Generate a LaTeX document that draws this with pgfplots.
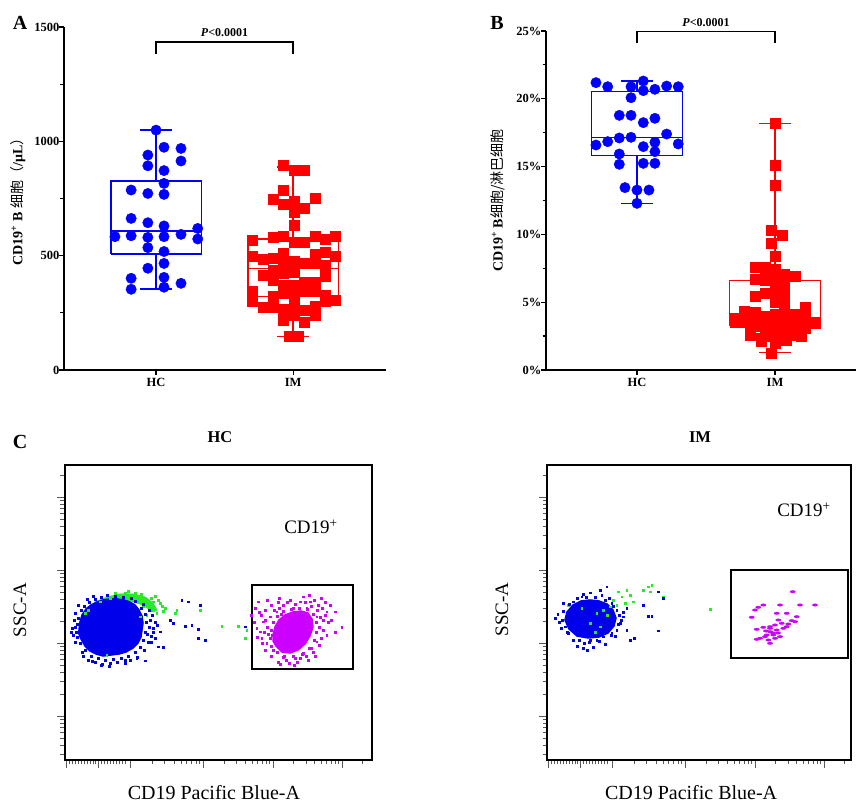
\documentclass[border=0pt]{standalone}
\usepackage{pgfplots}
\pgfplotsset{compat=1.18}
\usepackage{fontspec}
\setmainfont{Liberation Serif}
\newfontfamily\cjk{Noto Sans CJK SC}

\definecolor{fcblue}{RGB}{0,0,235}
\definecolor{fcgreen}{RGB}{40,235,40}
\definecolor{fcmag}{RGB}{204,0,255}

\pgfplotsset{
  dotplot/.style={
    scale only axis, axis lines=left, axis line style={-, line width=1.4pt},
    tick align=outside, tick style={line width=1.2pt, black},
    major tick length=5pt, minor tick length=3.5pt,
    ymin=0, xtick={1,2}, xticklabels={HC,IM},
    ticklabel style={font=\fontsize{12.5}{14}\selectfont\bfseries},
    yticklabel style={xshift=4pt},
    /pgf/number format/assume math mode=true,
    /pgf/number format/1000 sep={},
    clip=false, unbounded coords=jump,
  },
  flowplot/.style={
    scale only axis, height=295pt, ymin=0, ymax=295, xmin=0,
    axis line style={line width=1.8pt},
    tick align=outside, xtick pos=bottom, ytick pos=left,
    tick style={line width=0.7pt, gray!70!black},
    major tick length=8pt, minor tick length=4.5pt,
    xtick={1,33,65,138,208,277},
    minor xtick={4,7,10,13,16,19,22,25,28,30,36,39,42,45,48,51,54,57,60,
      87.0,99.8,108.9,116.0,121.8,126.7,130.9,134.6,
      159.1,171.4,180.1,186.9,192.5,197.2,201.2,204.8,
      228.8,240.9,249.5,256.2,261.7,266.3,270.3,273.8,297.8},
    ytick={44,117,190,263},
    minor ytick={5.8,14.9,22,27.8,32.7,36.9,40.7,66,78.8,87.9,95,100.8,105.7,109.9,113.7,
      139,151.8,160.9,168,173.8,178.7,182.9,186.7,
      212,224.8,233.9,241,246.8,251.7,255.9,259.7,285},
    xticklabels={}, yticklabels={},
    ylabel={\fontsize{19}{21}\selectfont SSC-A},
    xlabel={\fontsize{20}{22}\selectfont CD19 Pacific Blue-A},
  },
  bdot/.style={only marks, mark=square*, mark size=0.9pt, fcblue},
  gdot/.style={only marks, mark=square*, mark size=0.9pt, fcgreen},
  mdot/.style={only marks, mark=square*, mark size=0.9pt, fcmag},
}

\begin{document}
\begin{tikzpicture}
\useasboundingbox (0,0) rectangle (857pt,803pt);

% ---------- A ----------
\begin{axis}[dotplot, at={(64pt,433pt)}, anchor=south west,
  width=322pt, height=343pt, xmin=0.328, xmax=2.678, ymax=1500,
  ytick={0,500,1000,1500}, minor ytick={250,750,1250},
  ylabel={\fontsize{14}{16}\selectfont\bfseries CD19\textsuperscript{+} B {\cjk\mdseries 细胞（}/μL{\cjk\mdseries ）}},
  ylabel style={at={(axis description cs:-0.143,0.5)}, anchor=center},
]
% box, median, whiskers and caps
\addplot[blue, line width=1.4pt] coordinates {
  (0.67,507) (1.33,507) (1.33,826) (0.67,826) (0.67,507) (nan,nan)
  (0.67,608) (1.33,608) (nan,nan)
  (1,826) (1,1049) (nan,nan) (0.885,1049) (1.115,1049) (nan,nan)
  (1,507) (1,354) (nan,nan) (0.885,354) (1.115,354)
};
\addplot[red, line width=1.4pt] coordinates {
  (1.67,322) (2.33,322) (2.33,572) (1.67,572) (1.67,322) (nan,nan)
  (1.67,445) (2.33,445) (nan,nan)
  (2,572) (2,888) (nan,nan) (1.885,888) (2.115,888) (nan,nan)
  (2,322) (2,146) (nan,nan) (1.885,146) (2.115,146)
};
\addplot[only marks, mark=*, mark size=5.2pt, blue] coordinates {
  (1.000,1049) (1.058,974) (1.182,969) (0.940,940) (0.940,893) (1.182,914)
  (1.058,872) (1.058,816) (0.818,787) (0.940,772) (1.058,768) (0.818,663)
  (0.940,644) (1.058,630) (1.304,619) (0.700,583) (0.818,587) (0.940,580)
  (1.058,583) (1.182,593) (1.304,573) (0.940,535) (1.058,518) (1.058,466)
  (0.940,445) (0.818,401) (1.058,405) (1.182,379) (0.818,353) (1.058,362)
};
\addplot[only marks, mark=square*, mark size=5pt, red] coordinates {
  (1.929,896) (2.007,874) (2.083,874)
  (1.929,787) (1.854,746) (1.929,724) (2.007,739) (2.158,751) (2.083,707) (2.007,692)
  (2.007,634)
  (1.703,568) (1.854,579) (1.929,583) (2.007,561) (2.083,558) (2.158,583) (2.234,573) (2.309,583)
  (1.703,496) (1.779,485) (1.854,488) (1.929,510) (1.929,466) (2.007,474) (2.083,466)
  (2.158,506) (2.158,466) (2.234,513) (2.234,459) (2.309,496)
  (1.779,415) (1.854,437) (1.854,394) (1.929,423) (1.929,372) (2.007,427) (2.007,372)
  (2.083,386) (2.158,386) (2.234,408)
  (1.703,345) (1.703,302) (1.854,321) (1.929,335) (2.007,335) (2.007,299) (2.083,343)
  (2.158,343) (2.234,328) (2.234,299) (2.309,306)
  (1.779,273) (1.854,273) (1.929,267) (2.007,255) (2.083,262) (2.158,277) (2.158,238)
  (1.929,216) (2.007,238) (2.083,208)
  (1.970,146) (2.040,146)
};
\draw[line width=1.3pt] (axis cs:1,1382) -- (axis cs:1,1434) -- (axis cs:2,1434) -- (axis cs:2,1382);
\node[font=\fontsize{12}{14}\selectfont\bfseries] at (axis cs:1.5,1474) {\textit{P}<0.0001};
\end{axis}

% ---------- B ----------
\begin{axis}[dotplot, at={(546pt,433pt)}, anchor=south west,
  width=310pt, height=339pt, xmin=0.341, xmax=2.587, ymax=25,
  ytick={0,5,10,15,20,25}, yticklabels={0\%,5\%,10\%,15\%,20\%,25\%},
  minor ytick={2.5,7.5,12.5,17.5,22.5},
  ylabel={\fontsize{14}{16}\selectfont\bfseries CD19\textsuperscript{+} B{\cjk\mdseries 细胞/淋巴细胞}},
  ylabel style={at={(axis description cs:-0.155,0.5)}, anchor=center},
]
\addplot[blue, line width=1.4pt] coordinates {
  (0.67,15.80) (1.33,15.80) (1.33,20.52) (0.67,20.52) (0.67,15.80) (nan,nan)
  (0.67,17.13) (1.33,17.13) (nan,nan)
  (1,20.52) (1,21.31) (nan,nan) (0.885,21.31) (1.115,21.31) (nan,nan)
  (1,15.80) (1,12.29) (nan,nan) (0.885,12.29) (1.115,12.29)
};
\addplot[red, line width=1.4pt] coordinates {
  (1.67,3.3) (2.33,3.3) (2.33,6.6) (1.67,6.6) (1.67,3.3) (nan,nan)
  (1.67,3.85) (2.33,3.85) (nan,nan)
  (2,6.6) (2,18.19) (nan,nan) (1.885,18.19) (2.115,18.19) (nan,nan)
  (2,3.3) (2,1.28) (nan,nan) (1.885,1.28) (2.115,1.28)
};
\addplot[only marks, mark=*, mark size=5.2pt, blue] coordinates {
  (0.703,21.19) (0.788,20.89) (0.957,20.89) (1.046,21.31) (1.046,20.60) (1.130,20.70)
  (1.215,20.94) (1.299,20.89) (0.957,20.08) (0.872,18.78) (0.957,18.78) (1.046,18.24)
  (1.130,18.56) (1.215,17.40) (0.703,16.59) (0.788,16.84) (0.872,17.11) (0.957,17.16)
  (1.046,16.47) (1.130,16.79) (1.130,16.10) (1.299,16.67) (0.872,15.93) (0.872,15.17)
  (1.046,15.24) (1.130,15.24) (0.913,13.45) (1.000,13.27) (1.087,13.27) (1.000,12.29)
};
\addplot[only marks, mark=square*, mark size=5pt, red] coordinates {
  (2.000,18.19) (2.000,15.07) (2.000,13.64) (1.970,10.32) (2.050,9.96) (1.970,9.34) (2.000,8.41)
  (1.855,7.55) (1.930,7.60) (2.000,7.45) (2.070,7.10) (2.145,6.90)
  (1.855,6.70) (1.930,6.60) (2.000,6.90) (2.070,6.60) (1.930,7.20)
  (2.000,6.15) (2.070,6.00)
  (1.855,5.45) (1.930,5.65) (2.000,5.55) (2.070,5.30)
  (2.000,5.00) (2.070,4.70)
  (1.780,4.35) (1.855,4.25) (1.930,4.00) (2.000,4.10) (2.070,4.25) (2.145,4.15) (2.220,4.60) (2.220,4.20)
  (1.710,3.55) (1.780,3.55) (1.855,3.70) (1.930,3.70) (2.000,3.60) (2.070,3.70) (2.145,3.55)
  (2.220,3.70) (2.290,3.45) (1.710,3.80)
  (1.820,3.00) (1.930,3.10) (2.000,3.00) (2.070,3.10) (2.145,3.00) (2.220,3.10)
  (1.855,3.20) (2.000,3.30) (2.145,3.30)
  (1.820,2.60) (1.900,2.35) (1.970,2.50) (2.050,2.50) (2.120,2.60) (2.190,2.50)
  (1.930,2.80) (2.070,2.80)
  (1.900,2.10) (2.000,2.00) (2.080,2.20)
  (1.970,1.25)
};
\draw[line width=1.3pt] (axis cs:1,24.09) -- (axis cs:1,24.95) -- (axis cs:2,24.95) -- (axis cs:2,24.09);
\node[font=\fontsize{12}{14}\selectfont\bfseries] at (axis cs:1.5,25.6) {\textit{P}<0.0001};
\end{axis}

% ---------- C, HC ----------
\begin{axis}[flowplot, at={(65pt,43pt)}, anchor=south west,
  width=307pt, xmax=307,
  ylabel style={at={(axis description cs:-0.147,0.508)}, anchor=center},
  xlabel style={at={(axis description cs:0.485,-0.112)}, anchor=center},
]
\addplot[fill=fcgreen, draw=fcgreen, line width=0.8pt] coordinates {
  (22,150) (30,158) (42,163) (55,166) (68,166) (80,163) (88,157) (92,150)
  (88,148) (78,155) (66,159) (52,160) (38,158) (28,154)} -- cycle;
\addplot[gdot] coordinates {
  (35,158.3) (45,161.7) (55,163.3) (66.7,164) (75,163.3) (81.7,160.7) (88.3,158.3)
  (95,156.7) (78.3,153.3) (85,150) (91.7,146.7) (75,143.3) (81.7,145) (23.3,150)
  (20,146.7) (111.7,150) (110,146.7) (135,150) (156.7,134) (173.3,134) (181.7,130)
  (180,121.7) (41.7,105) (60,167) (50,167) (70,167) (100,152) (86,162)
  (93,160) (97,154) (90,164) (63,169) (76,166) (84,156) (98,149)
};
\addplot[fill=fcblue, draw=fcblue, line width=1.5pt] coordinates {
  (14,130) (15,138) (17,145) (21,151) (26,155) (32,158) (38,160) (45,161)
  (52,161) (59,160) (65,158) (70,155) (74,150) (77,144) (78,137) (77,130)
  (76,123) (73,117) (68,112) (61,108) (54,106) (46,105) (38,104) (31,106)
  (25,109) (20,114) (16,121) (14,126)} -- cycle;
\addplot[bdot] coordinates {
  (11,128) (12,136) (13,142) (16,150) (19,154) (24,158) (30,161) (36,163) (70,159)
  (76,152) (80,146) (81,138) (80,128) (78,120) (75,113) (70,108) (63,104) (56,102)
  (48,101) (40,100) (33,102) (26,104) (20,110) (15,117) (12,123) (23,100) (30,98)
  (45,97) (60,100) (82,126) (84,133) (83,118) (18,104) (10,133) (9,140) (85,140)
  (116.7,160) (123.3,158.3) (135,155) (105,140) (108.3,136.7) (120,134) (126.7,135)
  (133.3,130.7) (133.3,121.7) (140,120) (95,128.3) (93.3,113.3) (98.3,112.7)
  (80,99.3) (71.7,101.7) (88.3,131.7) (180,133.3) (90,138) (86,124)
  (8,125) (7,132) (10,147) (13,155) (22,161) (28,164) (42,165) (50,164) (58,163)
  (66,162) (78,156) (84,150) (87,145) (88,128) (86,118) (79,110) (72,103) (65,100)
  (52,98) (37,96) (27,99) (17,108) (10,118) (6,128) (36,95) (44,94) (60,97) (90,122) (92,135)
};
\addplot[fill=fcmag, draw=fcmag, line width=1.5pt] coordinates {
  (208,125) (210,133) (214,140) (220,145) (228,148) (236,149) (243,147) (247,141)
  (248,133) (245,124) (240,116) (233,110) (225,107) (217,108) (211,114) (208,119)} -- cycle;
\addplot[mdot] coordinates {
  (193.3,158.3) (218.3,155) (235,158.3) (245,158.3) (253.3,155) (265,155) (270,148.3)
  (276.7,132.7) (261.7,125) (258.3,140) (251.7,143.3) (241.7,151.7) (228.3,151.7)
  (211.7,148.3) (205,143.3) (198.3,138.3) (191.7,131.7) (195,128.3) (196.7,121.7)
  (201.7,116.7) (208.3,110) (218.3,102.7) (230,101.7) (238.3,106.7) (246.7,111.7)
  (251.7,118.3) (206.7,125) (261.7,148.3) (238.3,163.3) (225,160)
  (205,122) (206,130) (208,138) (212,144) (218,149) (226,151) (234,152) (242,151)
  (248,146) (251,138) (251,128) (249,120) (244,112) (237,106) (228,104) (219,104)
  (212,108) (206,114) (203,126) (254,133) (255,143) (252,150) (202,133) (199,128)
  (200,140) (214,152) (246,154) (221,100) (235,102)
  (196,145) (200,150) (206,155) (213,158) (222,158) (230,156) (240,158) (249,160)
  (257,152) (260,145) (263,138) (258,130) (256,122) (254,115) (248,108) (241,104)
  (232,98) (224,97) (213,98) (206,104) (200,110) (197,117) (192,123) (189,138)
  (194,148) (209,150) (216,146) (260,158) (266,140) (270,128) (229,95) (215,96)
  (243,100) (250,104) (186,145) (190,152) (202,160) (244,165) (256,162) (214,162)
};
\draw[line width=1.6pt] (axis cs:187,91) rectangle (axis cs:288,175);
\node[font=\fontsize{19}{21}\selectfont] at (axis cs:246,233) {CD19\textsuperscript{+}};
\end{axis}

% ---------- C, IM ----------
\begin{axis}[flowplot, at={(547pt,43pt)}, anchor=south west,
  width=304pt, xmax=304,
  ylabel style={at={(axis description cs:-0.148,0.51)}, anchor=center},
  xlabel style={at={(axis description cs:0.474,-0.112)}, anchor=center},
]
\addplot[gdot] coordinates {
  (71.3,168.3) (74.7,163.3) (79.7,170) (83,165) (86.3,158.3) (78,156.7) (69.7,155)
  (63,153.3) (96.3,170) (101.3,173.3) (104.7,175) (103,168.3) (116.3,163.3)
  (163,150.7) (49.7,146.7) (56.3,150) (53,133.3) (43,136.7) (34.7,151.7) (21.3,155)
  (66,160) (60,145) (48,128)
};
\addplot[fill=fcblue, draw=fcblue, line width=1.5pt] coordinates {
  (18,140) (20,148) (26,155) (34,159) (43,160) (52,159) (60,156) (66,150)
  (69,142) (67,134) (61,127) (52,123) (41,122) (30,124) (22,131)} -- cycle;
\addplot[bdot] coordinates {
  (10.7,146) (16.3,156.7) (18,133.3) (21.3,126.7) (26.3,120) (36.3,111.7) (37,116.7)
  (43,120) (49.7,120) (56.3,123.3) (64.7,127.3) (69.7,130) (79.7,130) (83,120)
  (87,121.7) (111.3,129.3) (101.3,144) (104.7,144) (76.3,143.3) (69.7,150) (64.7,156.7)
  (54.7,165) (43,167.3) (34.7,163.3) (26.3,158.3) (53,170) (59.7,173.3) (96.3,155)
  (116.3,161.7) (111.3,168.3) (79.7,151.7) (73,136.7)
  (15,140) (16,149) (22,156) (30,162) (39,163) (48,163) (58,160) (66,154) (72,145)
  (71,136) (64,125) (52,119) (42,118) (32,120) (20,128) (12,138) (30,114) (46,113)
  (74,140) (76,148) (8,142) (14,132) (36,166) (62,162) (68,124) (58,116) (40,110)
};
\addplot[only marks, mark=*, mark size=1.2pt, fcmag, mark options={xscale=2.2}] coordinates {
  (245.7,168.3) (216.3,155) (211.3,152.7) (208,150) (233,155) (253,155) (268,155)
  (204.7,142.7) (229.7,146.7) (239.7,146.7) (249.7,143.3) (231.3,140) (244.7,139.3)
  (209.7,130.7) (216.3,132.7) (223,131.7) (228,135) (234.7,136.7) (241.3,136)
  (248,138.3) (223,128.3) (229.7,130) (236.3,131.7) (219.7,125) (226.3,125) (213,121.7)
  (221.3,120) (228,121.7) (223,116.7) (218,123.3) (233,123.3) (223,133.3) (239.7,133.3)
  (209.7,120.7) (226,127) (231,127) (219,129)
};
\draw[line width=1.6pt] (axis cs:184,102) rectangle (axis cs:301,190);
\node[font=\fontsize{19}{21}\selectfont] at (axis cs:257,250) {CD19\textsuperscript{+}};
\end{axis}

% titles and panel letters
\node[font=\fontsize{16.5}{18}\selectfont\bfseries] at (220pt,366pt) {HC};
\node[font=\fontsize{16.5}{18}\selectfont\bfseries] at (700pt,366pt) {IM};
\node[font=\fontsize{20}{22}\selectfont\bfseries] at (20pt,780pt) {A};
\node[font=\fontsize{20}{22}\selectfont\bfseries] at (497pt,780pt) {B};
\node[font=\fontsize{20}{22}\selectfont\bfseries] at (20pt,361pt) {C};
\end{tikzpicture}
\end{document}
